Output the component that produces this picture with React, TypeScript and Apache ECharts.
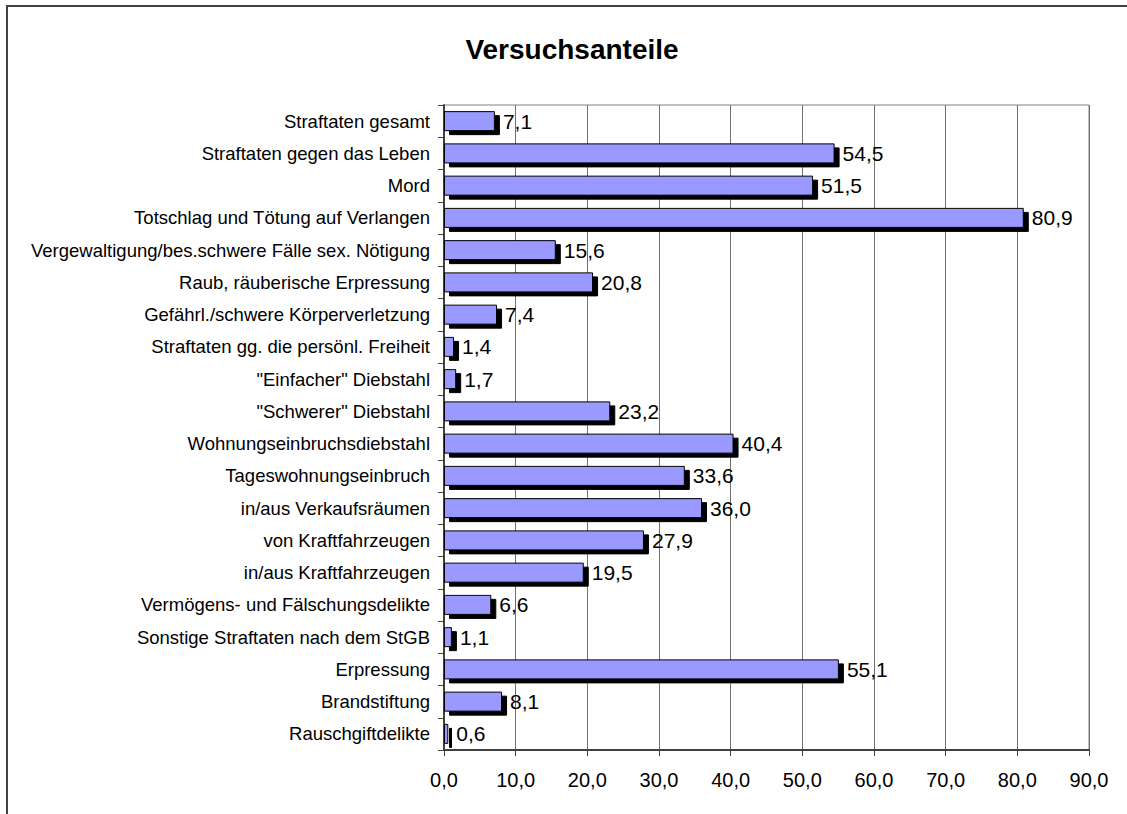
import React, { useEffect, useRef } from "react";
import * as echarts from "echarts";

const categories: string[] = [
  "Straftaten gesamt",
  "Straftaten gegen das Leben",
  "Mord",
  "Totschlag und Tötung auf Verlangen",
  "Vergewaltigung/bes.schwere Fälle sex. Nötigung",
  "Raub, räuberische Erpressung",
  "Gefährl./schwere Körperverletzung",
  "Straftaten gg. die persönl. Freiheit",
  "\"Einfacher\" Diebstahl",
  "\"Schwerer\" Diebstahl",
  "Wohnungseinbruchsdiebstahl",
  "Tageswohnungseinbruch",
  "in/aus Verkaufsräumen",
  "von Kraftfahrzeugen",
  "in/aus Kraftfahrzeugen",
  "Vermögens- und Fälschungsdelikte",
  "Sonstige Straftaten nach dem StGB",
  "Erpressung",
  "Brandstiftung",
  "Rauschgiftdelikte",
];

const values: number[] = [
  7.1, 54.5, 51.5, 80.9, 15.6, 20.8, 7.4, 1.4, 1.7, 23.2, 40.4, 33.6, 36.0,
  27.9, 19.5, 6.6, 1.1, 55.1, 8.1, 0.6,
];

const title = "Versuchsanteile";
const xMin = 0;
const xMax = 90;
const xInterval = 10;

const fmt = (v: number) => v.toFixed(1).replace(".", ",");

export default function App() {
  const ref = useRef<HTMLDivElement>(null);
  useEffect(() => {
    if (!ref.current) return;
    const chart = echarts.init(ref.current, undefined, { renderer: "svg" });
    chart.setOption({
      animation: false,
      backgroundColor: "#ffffff",
      textStyle: { fontFamily: "Liberation Sans, Arial, sans-serif" },
      title: {
        text: title,
        left: 567,
        top: 30,
        textAlign: "center",
        textStyle: {
          fontSize: 28,
          fontWeight: "bold",
          color: "#000000",
          fontFamily: "Liberation Sans, Arial, sans-serif",
        },
      },
      graphic: [
        {
          type: "rect",
          shape: { x: 7, y: 6, width: 1300, height: 1000 },
          style: { fill: "none", stroke: "#404040", lineWidth: 2 },
          silent: true,
          z: 100,
        },
      ],
      grid: {
        left: 444,
        right: 38,
        top: 105,
        bottom: 64,
        show: true,
        borderColor: "#808080",
        borderWidth: 1,
        containLabel: false,
      },
      xAxis: {
        type: "value",
        min: xMin,
        max: xMax,
        interval: xInterval,
        axisLine: { show: true, lineStyle: { color: "#404040", width: 2 } },
        axisTick: {
          show: true,
          inside: false,
          length: 6,
          lineStyle: { color: "#404040", width: 1 },
        },
        axisLabel: {
          fontSize: 20,
          color: "#000000",
          margin: 20,
          formatter: (v: number) => fmt(v),
        },
        splitLine: { show: true, lineStyle: { color: "#707070", width: 1 } },
      },
      yAxis: {
        type: "category",
        data: categories,
        inverse: true,
        axisLine: { show: true, lineStyle: { color: "#404040", width: 2 } },
        axisTick: {
          show: true,
          length: 6,
          lineStyle: { color: "#404040", width: 1 },
        },
        axisLabel: { fontSize: 18.5, color: "#000000", margin: 14 },
        splitLine: { show: false },
      },
      series: [
        {
          type: "bar",
          data: values,
          barWidth: 20,
          itemStyle: {
            color: "#9999FF",
            borderColor: "#000000",
            borderWidth: 1,
            shadowColor: "#000000",
            shadowOffsetX: 5,
            shadowOffsetY: 4,
            shadowBlur: 0,
          },
          label: {
            show: true,
            position: "right",
            distance: 8,
            fontSize: 21,
            color: "#000000",
            formatter: (p: any) => fmt(p.value),
          },
        },
      ],
    });
    return () => chart.dispose();
  }, []);
  return (
    <div
      ref={ref}
      style={{ position: "fixed", left: 0, top: 0, width: 1127, height: 814 }}
    />
  );
}
